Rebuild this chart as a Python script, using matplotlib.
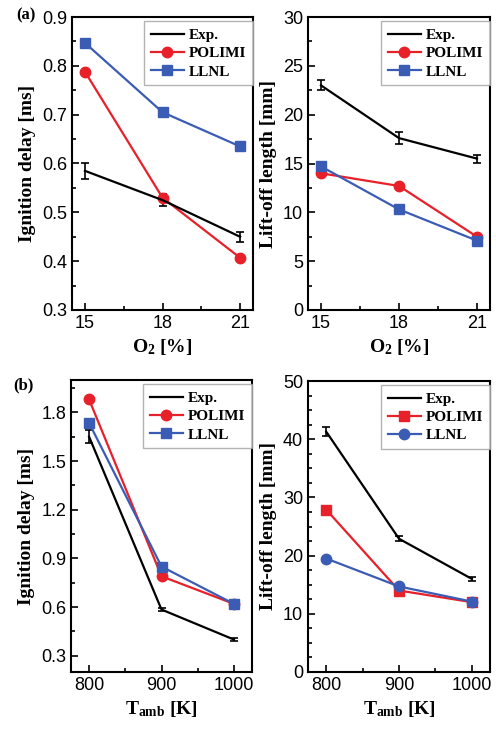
import matplotlib
matplotlib.use("Agg")
import matplotlib.pyplot as plt
from matplotlib.ticker import MultipleLocator
from matplotlib.lines import Line2D

plt.rcParams['font.family'] = ['Liberation Sans', 'DejaVu Sans']
plt.rcParams['mathtext.fontset'] = 'custom'
plt.rcParams['mathtext.rm'] = 'Liberation Serif:bold'
plt.rcParams['mathtext.bf'] = 'Liberation Serif:bold'
plt.rcParams['mathtext.it'] = 'Liberation Serif:bold'

# ---- data ----
o2 = [15, 18, 21]
tamb = [800, 900, 1000]

# (a) ignition delay vs O2
a_id_exp = [0.585, 0.525, 0.450]
a_id_exp_err = [0.016, 0.013, 0.010]
a_id_polimi = [0.788, 0.530, 0.407]
a_id_llnl = [0.847, 0.705, 0.635]

# (a) lift-off length vs O2
a_lol_exp = [23.0, 17.6, 15.5]
a_lol_exp_err = [0.5, 0.6, 0.4]
a_lol_polimi = [14.0, 12.7, 7.5]
a_lol_llnl = [14.7, 10.3, 7.1]

# (b) ignition delay vs T_amb
b_id_exp = [1.65, 0.585, 0.40]
b_id_exp_err = [0.04, 0.012, 0.010]
b_id_polimi = [1.88, 0.79, 0.62]
b_id_llnl = [1.735, 0.85, 0.62]

# (b) lift-off length vs T_amb
b_lol_exp = [41.3, 22.9, 16.0]
b_lol_exp_err = [0.8, 0.4, 0.3]
b_lol_polimi = [27.9, 14.0, 12.0]
b_lol_llnl = [19.5, 14.7, 12.1]

series_names = ['Exp.', 'POLIMI', 'LLNL']

RED = '#e8202a'
BLUE = '#3b5cb4'

fig = plt.figure(figsize=(4.96, 7.33), dpi=100)
W, H = 496, 733

def add_ax(l, r, t, b):
    return fig.add_axes([l / W, 1 - b / H, (r - l) / W, (b - t) / H])

ax1 = add_ax(72, 253, 17, 310)
ax2 = add_ax(308, 490, 17, 310)
ax3 = add_ax(71, 252, 380, 672)
ax4 = add_ax(308, 490, 381, 672)

lab_font = dict(family='Liberation Serif', weight='bold', size=14)
leg_prop = dict(family='Liberation Serif', weight='bold', size=11)

def style(ax, xlim, ylim, xmaj, xmin, ymaj, ymin):
    ax.set_xlim(*xlim)
    ax.set_ylim(*ylim)
    ax.xaxis.set_major_locator(MultipleLocator(xmaj))
    ax.xaxis.set_minor_locator(MultipleLocator(xmin))
    ax.yaxis.set_major_locator(MultipleLocator(ymaj))
    ax.yaxis.set_minor_locator(MultipleLocator(ymin))
    ax.tick_params(which='both', direction='in', labelsize=13, width=1.2)
    ax.tick_params(which='major', length=5)
    ax.tick_params(which='minor', length=3)
    for s in ax.spines.values():
        s.set_linewidth(1.5)

def plot_panel(ax, x, exp, err, pol, lln, pol_m, lln_m):
    ax.errorbar(x, exp, yerr=err, color='black', lw=1.6, capsize=3,
                capthick=1.2, elinewidth=1.2)
    l2, = ax.plot(x, pol, color=RED, marker=pol_m, ms=7.5, lw=1.6)
    l3, = ax.plot(x, lln, color=BLUE, marker=lln_m, ms=7.5, lw=1.6)
    h1 = Line2D([], [], color='black', lw=1.6)
    leg = ax.legend([h1, l2, l3], series_names, loc='upper right',
                    bbox_to_anchor=(1.0, 0.985), borderaxespad=0.0,
                    prop=leg_prop, frameon=True, fancybox=False,
                    edgecolor='#a0a0a0', handlelength=2.2, numpoints=1,
                    handletextpad=0.3, labelspacing=0.3, borderpad=0.45)
    leg.get_frame().set_linewidth(1.0)

plot_panel(ax1, o2, a_id_exp, a_id_exp_err, a_id_polimi, a_id_llnl, 'o', 's')
style(ax1, (14.5, 21.5), (0.3, 0.9), 3, 1.5, 0.1, 0.05)
ax1.set_ylabel('Ignition delay [ms]', **lab_font)
ax1.set_xlabel(r'O$_\mathrm{2}$ [%]', **lab_font)

plot_panel(ax2, o2, a_lol_exp, a_lol_exp_err, a_lol_polimi, a_lol_llnl, 'o', 's')
style(ax2, (14.5, 21.5), (0, 30), 3, 1.5, 5, 2.5)
ax2.set_ylabel('Lift-off length [mm]', **lab_font)
ax2.set_xlabel(r'O$_\mathrm{2}$ [%]', **lab_font)

plot_panel(ax3, tamb, b_id_exp, b_id_exp_err, b_id_polimi, b_id_llnl, 'o', 's')
style(ax3, (775, 1025), (0.2, 2.0), 100, 50, 0.3, 0.15)
ax3.set_ylabel('Ignition delay [ms]', **lab_font)
ax3.set_xlabel(r'T$_\mathrm{amb}$ [K]', **lab_font)

plot_panel(ax4, tamb, b_lol_exp, b_lol_exp_err, b_lol_polimi, b_lol_llnl, 's', 'o')
style(ax4, (775, 1025), (0, 50), 100, 50, 10, 2.5)
ax4.set_ylabel('Lift-off length [mm]', **lab_font)
ax4.set_xlabel(r'T$_\mathrm{amb}$ [K]', **lab_font)

fig.text(16 / W, 1 - 15 / H, '(a)', family='Liberation Serif', weight='bold',
         size=12, va='center', ha='left')
fig.text(13 / W, 1 - 385 / H, '(b)', family='Liberation Serif', weight='bold',
         size=12, va='center', ha='left')

fig.savefig('out.png', dpi=100)
